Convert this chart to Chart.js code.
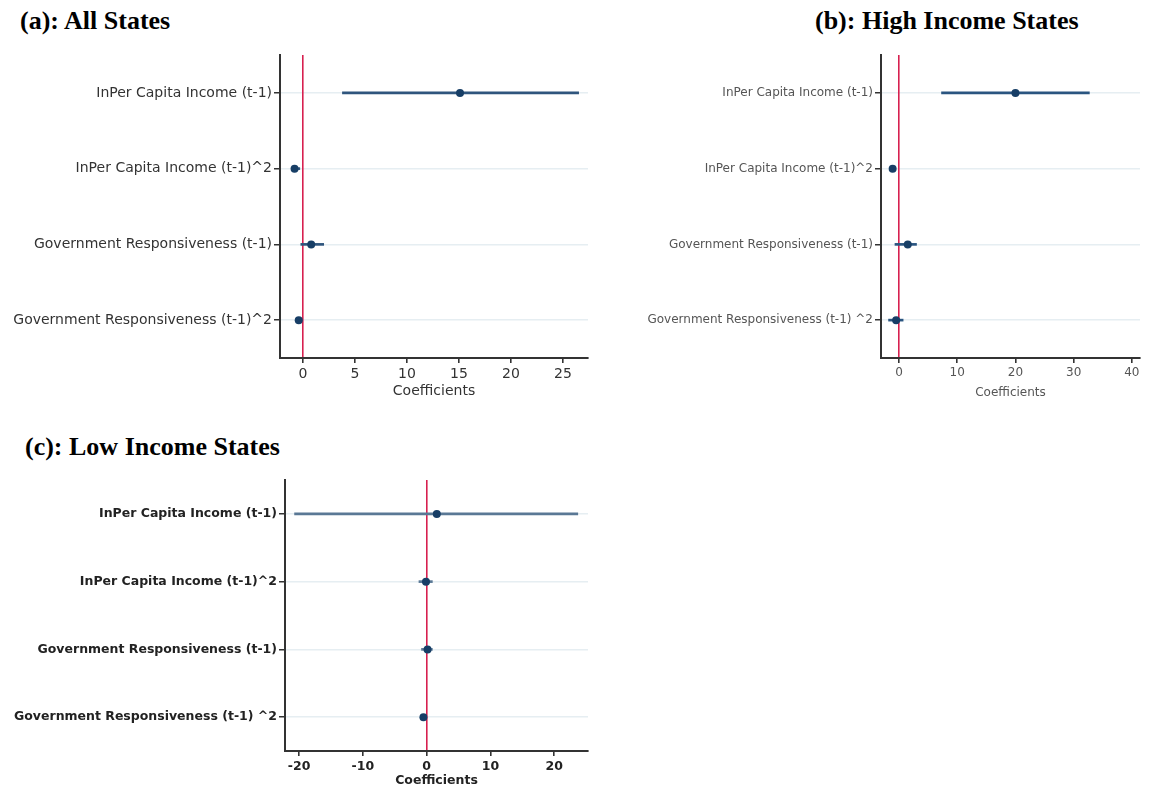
<!DOCTYPE html>
<html>
<head>
<meta charset="utf-8">
<script src="https://cdn.jsdelivr.net/npm/chart.js@4.4.1/dist/chart.umd.min.js"></script>
<style>
    body { margin: 0; background: #fff; }
    #page { position: relative; width: 1150px; height: 787px; overflow: hidden; }
    .box { position: absolute; }
    .ttl { position: absolute; font-family: "Liberation Serif", serif; font-weight: bold; font-size: 26px; line-height: 30px; color: #000; white-space: nowrap; }
</style>
</head>
<body>
<div id="page">
    <div class="ttl" style="left:20px; top:6px;">(a): All States</div>
    <div class="ttl" style="left:815px; top:6px;">(b): High Income States</div>
    <div class="ttl" style="left:25px; top:432px;">(c): Low Income States</div>
    <div class="box" style="left:0; top:0; width:600px; height:400px;"><canvas id="chartA"></canvas></div>
    <div class="box" style="left:600px; top:0; width:550px; height:400px;"><canvas id="chartB"></canvas></div>
    <div class="box" style="left:0; top:400px; width:600px; height:388px;"><canvas id="chartC"></canvas></div>
</div>
<script>
// (a) All States
const labelsA = ['InPer Capita Income (t-1)', 'InPer Capita Income (t-1)^2', 'Government Responsiveness (t-1)', 'Government Responsiveness (t-1)^2'];
const coefA = [15.1, -0.8, 0.8, -0.4];
const lowA = [3.8, -1.1, -0.2, -0.7];
const highA = [26.5, -0.3, 2.0, -0.1];

// (b) High Income States
const labelsB = ['InPer Capita Income (t-1)', 'InPer Capita Income (t-1)^2', 'Government Responsiveness (t-1)', 'Government Responsiveness (t-1) ^2'];
const coefB = [20.0, -1.1, 1.5, -0.5];
const lowB = [7.3, -1.5, -0.7, -1.8];
const highB = [32.7, -0.7, 3.0, 0.7];

// (c) Low Income States
const labelsC = ['InPer Capita Income (t-1)', 'InPer Capita Income (t-1)^2', 'Government Responsiveness (t-1)', 'Government Responsiveness (t-1) ^2'];
const coefC = [1.6, -0.1, 0.15, -0.5];
const lowC = [-20.7, -1.2, -0.8, -0.8];
const highC = [23.7, 0.9, 0.9, -0.2];

function ciPairs(low, high) {
    let arr = [];
    for (let i = 0; i < low.length; i++) {
        arr[i] = [low[i], high[i]];
    }
    return arr;
}

function pointData(coef, labels) {
    let arr = [];
    for (let i = 0; i < coef.length; i++) {
        arr[i] = {x: coef[i], y: labels[i]};
    }
    return arr;
}

function plotCoef(idChart, labels, coef, low, high, st) {
    let tickFont = {family: 'DejaVu Sans', size: st.fontSize, weight: st.weight};
    let config = {
        type: 'bar',
        data: {
            labels: labels,
            datasets: [{
                type: 'line',
                indexAxis: 'y',
                data: pointData(coef, labels),
                showLine: false,
                pointRadius: 4,
                pointHoverRadius: 4,
                pointBackgroundColor: '#173e66',
                pointBorderColor: '#173e66',
                pointBorderWidth: 0
            }, {
                data: ciPairs(low, high),
                backgroundColor: st.ciColor,
                borderWidth: 0,
                barThickness: 2,
                borderSkipped: false
            }]
        },
        options: {
            indexAxis: 'y',
            responsive: true,
            maintainAspectRatio: false,
            animation: false,
            events: [],
            layout: {padding: {top: st.top, right: st.right, left: 0, bottom: 0}},
            plugins: {legend: {display: false}, tooltip: {enabled: false}},
            scales: {
                y: {
                    type: 'category',
                    offset: true,
                    afterFit: function (scale) { scale.width = st.yWidth; },
                    border: {display: true, color: '#333', width: 2},
                    grid: {offset: false, color: '#e6eef2', lineWidth: 1.5, tickColor: '#333', tickLength: 6},
                    ticks: {color: st.textColor, font: tickFont, padding: 2}
                },
                x: {
                    type: 'linear',
                    min: st.min,
                    max: st.max,
                    afterFit: function (scale) { scale.height = st.xHeight; },
                    border: {display: true, color: '#333', width: 2},
                    grid: {
                        drawOnChartArea: true,
                        color: function (ctx) { return ctx.tick && ctx.tick.value === 0 ? '#d7204f' : 'rgba(0,0,0,0)'; },
                        lineWidth: 1.6,
                        tickColor: '#333',
                        tickLength: 5
                    },
                    ticks: {stepSize: st.step, includeBounds: false, color: st.textColor, font: tickFont, padding: 3, maxRotation: 0},
                    title: {display: true, text: 'Coefficients', color: st.textColor, font: tickFont, padding: {top: 0, bottom: 0}}
                }
            }
        }
    };
    return new Chart(document.getElementById(idChart), config);
}

plotCoef('chartA', labelsA, coefA, lowA, highA, {
    fontSize: 14, weight: 'normal', textColor: '#333', ciColor: '#2f557d',
    top: 55, right: 12, yWidth: 280, xHeight: 42, min: -2.2, max: 27.4, step: 5
});
plotCoef('chartB', labelsB, coefB, lowB, highB, {
    fontSize: 12, weight: 'normal', textColor: '#555', ciColor: '#2a5580',
    top: 55, right: 10, yWidth: 281, xHeight: 42, min: -3.1, max: 41.4, step: 10
});
plotCoef('chartC', labelsC, coefC, lowC, highC, {
    fontSize: 12.5, weight: 'bold', textColor: '#222', ciColor: '#5a7895',
    top: 80, right: 12, yWidth: 285, xHeight: 37, min: -22.2, max: 25.3, step: 10
});
</script>
</body>
</html>
